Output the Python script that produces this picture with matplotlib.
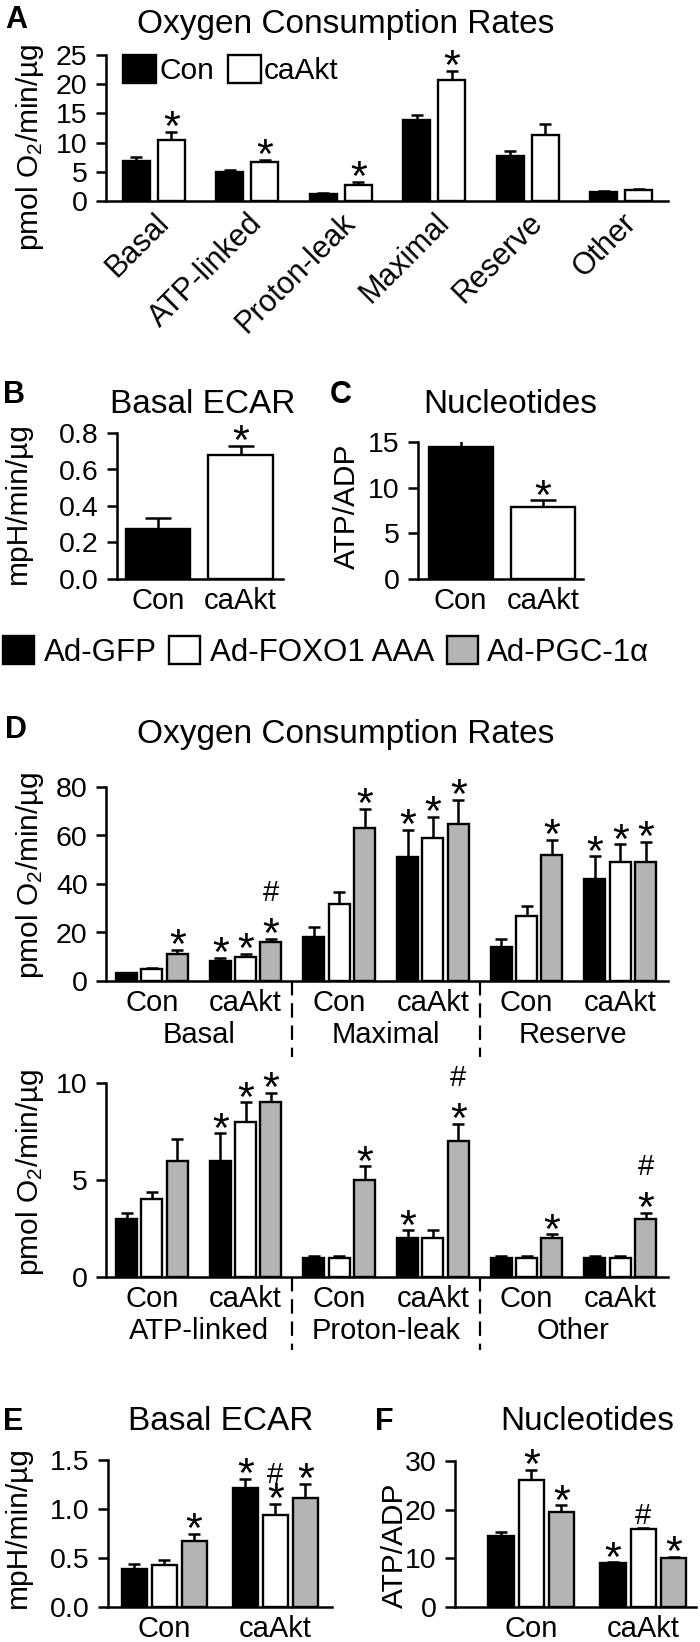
import matplotlib
matplotlib.use('Agg')
import matplotlib.pyplot as plt
import matplotlib.transforms as mtransforms
from matplotlib.patches import Patch
import numpy as np

plt.rcParams['font.family'] = ['Liberation Sans', 'DejaVu Sans']
plt.rcParams['mathtext.default'] = 'regular'

# ---------------- data ----------------
a_cats = ['Basal', 'ATP-linked', 'Proton-leak', 'Maximal', 'Reserve', 'Other']
a_con = [6.9, 5.0, 1.2, 13.9, 7.7, 1.5]
a_con_err = [0.6, 0.25, 0.2, 0.9, 0.8, 0.15]
a_ca = [10.4, 6.6, 2.8, 20.7, 11.3, 1.8]
a_ca_err = [1.4, 0.5, 0.5, 1.6, 1.8, 0.2]
a_ca_sig = ['*', '*', '*', '*', '', '']

bc_cats = ['Con', 'caAkt']
b_vals = [0.275, 0.68]
b_err = [0.058, 0.05]
b_sig = ['', '*']
c_vals = [14.4, 7.9]
c_err = [0.85, 0.7]
c_sig = ['', '*']

treat_labels = ['Ad-GFP', 'Ad-FOXO1 AAA', 'Ad-PGC-1α']
sub_labels = ['Con', 'caAkt', 'Con', 'caAkt', 'Con', 'caAkt']
d1_groups = ['Basal', 'Maximal', 'Reserve']
d1_gfp = [3.15, 8.1, 18.1, 51.1, 14.2, 42.2]
d1_gfp_err = [0.3, 1.5, 4.1, 11.1, 3.3, 9.2]
d1_foxo = [5.1, 10.1, 31.9, 58.9, 26.8, 49.0]
d1_foxo_err = [0.4, 1.0, 4.7, 8.8, 4.3, 7.4]
d1_pgc = [11.1, 16.0, 63.0, 64.9, 51.9, 49.0]
d1_pgc_err = [1.8, 1.4, 8.1, 9.9, 6.3, 8.5]
d1_gfp_sig = ['', '*', '', '*', '', '*']
d1_foxo_sig = ['', '*', '', '*', '', '*']
d1_pgc_sig = ['*', '#*', '*', '*', '*', '*']

d2_groups = ['ATP-linked', 'Proton-leak', 'Other']
d2_gfp = [3.0, 6.0, 1.0, 2.0, 1.0, 1.0]
d2_gfp_err = [0.3, 1.4, 0.06, 0.4, 0.06, 0.06]
d2_foxo = [4.0, 8.0, 1.0, 2.0, 1.0, 1.0]
d2_foxo_err = [0.4, 1.0, 0.06, 0.4, 0.06, 0.06]
d2_pgc = [6.0, 9.0, 5.0, 7.0, 2.0, 3.0]
d2_pgc_err = [1.1, 0.5, 0.7, 0.9, 0.2, 0.3]
d2_gfp_sig = ['', '*', '', '*', '', '']
d2_foxo_sig = ['', '*', '', '', '', '']
d2_pgc_sig = ['', '*', '*', '#*', '*', '#*']

ef_cats = ['Con', 'caAkt']
e_gfp = [0.39, 1.21]
e_gfp_err = [0.05, 0.1]
e_foxo = [0.43, 0.94]
e_foxo_err = [0.05, 0.11]
e_pgc = [0.67, 1.11]
e_pgc_err = [0.08, 0.15]
e_gfp_sig = ['', '*']
e_foxo_sig = ['', '#*']
e_pgc_sig = ['*', '*']

f_gfp = [14.5, 9.0]
f_gfp_err = [0.9, 0.15]
f_foxo = [26.0, 16.0]
f_foxo_err = [2.2, 0.3]
f_pgc = [19.6, 10.1]
f_pgc_err = [1.3, 0.15]
f_gfp_sig = ['', '*']
f_foxo_sig = ['*', '#']
f_pgc_sig = ['*', '*']

# ---------------- style ----------------
W, H = 700, 1642
BLACK, WHITE, GRAY = '#000000', '#ffffff', '#b4b4b4'
LW = 1.8
TICK_FS = 20.5
XT_FS = 21
TITLE_FS = 24
LAB_FS = 21.5
LET_FS = 22
STAR_FS = 31
HASH_FS = 21

fig = plt.figure(figsize=(W / 100, H / 100), dpi=100)


def add_ax(l, r, t, b):
    return fig.add_axes([l / W, 1 - b / H, (r - l) / W, (b - t) / H])


def ftext(x, y, s, **kw):
    fig.text(x / W, 1 - y / H, s, **kw)


def style(ax, ylim, yticks, ylabels):
    for s in ['top', 'right']:
        ax.spines[s].set_visible(False)
    for s in ['left', 'bottom']:
        ax.spines[s].set_linewidth(LW)
    ax.set_ylim(*ylim)
    ax.set_yticks(yticks)
    ax.set_yticklabels(ylabels, fontsize=TICK_FS)
    ax.tick_params(axis='y', length=7.2, width=LW, pad=6)
    ax.tick_params(axis='x', length=0, pad=6, labelsize=XT_FS)
    ax.patch.set_alpha(0)


def bars(ax, x, vals, errs, color, width, capsize):
    ax.bar(x, vals, width, color=color, edgecolor='black', linewidth=1.7, zorder=3)
    ax.errorbar(x, vals, yerr=[np.zeros(len(vals)), errs], fmt='none', ecolor='black',
                elinewidth=LW, capsize=capsize, capthick=LW, zorder=2)


def marks(ax, x, vals, errs, sigs, star_dy=-6, hash_dy=27, hash_alone=3):
    for xi, v, e, s in zip(x, vals, errs, sigs):
        top = v + e
        if '*' in s:
            ax.annotate('*', xy=(xi, top), xytext=(0, star_dy), textcoords='offset points',
                        ha='center', va='baseline', fontsize=STAR_FS, zorder=5)
        if '#' in s:
            dy = hash_dy if '*' in s else hash_alone
            ax.annotate('#', xy=(xi, top), xytext=(0, dy), textcoords='offset points',
                        ha='center', va='baseline', fontsize=HASH_FS, zorder=5)


# ---------------- Panel A ----------------
axA = add_ax(106, 668, 55, 201)
xa = np.arange(len(a_cats))
bars(axA, xa - 0.187, a_con, a_con_err, BLACK, 0.29, 4)
bars(axA, xa + 0.187, a_ca, a_ca_err, WHITE, 0.29, 4)
marks(axA, xa + 0.187, a_ca, a_ca_err, a_ca_sig)
axA.set_xlim(-0.51, 5.5)
style(axA, (0, 25), [0, 5, 10, 15, 20, 25], ['0', '5', '10', '15', '20', '25'])
axA.set_xticks(xa)
axA.set_xticklabels(a_cats, rotation=45, ha='right', va='top', rotation_mode='anchor', fontsize=22)
axA.tick_params(axis='x', pad=5)
legA = axA.legend(handles=[Patch(facecolor=BLACK, edgecolor='black', linewidth=1.7),
                           Patch(facecolor=WHITE, edgecolor='black', linewidth=1.7)],
                  labels=['Con', 'caAkt'], ncol=2, frameon=False, fontsize=21.5,
                  handlelength=1.1, handleheight=1.05, handletextpad=0.12, columnspacing=0.45,
                  borderpad=0, borderaxespad=0, loc='center left',
                  bbox_to_anchor=(123 / W, 1 - 70 / H), bbox_transform=fig.transFigure)
ftext(5, 28, 'A', fontsize=LET_FS, fontweight='bold', va='baseline')
ftext(137, 33, 'Oxygen Consumption Rates', fontsize=TITLE_FS, ha='left', va='baseline')
ftext(30, 147, 'pmol O$_2$/min/µg', fontsize=LAB_FS, rotation=90, ha='center', va='center')

# ---------------- Panel B ----------------
axB = add_ax(117, 283, 433, 579)
xb = np.arange(len(bc_cats))
bars(axB, xb, b_vals, b_err, [BLACK, WHITE], 0.78, 9.5)
marks(axB, xb, b_vals, b_err, b_sig)
axB.set_xlim(-0.497, 1.515)
style(axB, (0, 0.8), [0, 0.2, 0.4, 0.6, 0.8], ['0.0', '0.2', '0.4', '0.6', '0.8'])
axB.set_xticks(xb)
axB.set_xticklabels(bc_cats)
ftext(3, 403, 'B', fontsize=LET_FS, fontweight='bold', va='baseline')
ftext(110, 413, 'Basal ECAR', fontsize=TITLE_FS, ha='left', va='baseline')
ftext(18, 503, 'mpH/min/µg', fontsize=LAB_FS, rotation=90, ha='center', va='center')

# ---------------- Panel C ----------------
axC = add_ax(418, 583, 442, 579)
bars(axC, xb, c_vals, c_err, [BLACK, WHITE], 0.78, 9.5)
marks(axC, xb, c_vals, c_err, c_sig)
axC.set_xlim(-0.52, 1.49)
style(axC, (0, 15), [0, 5, 10, 15], ['0', '5', '10', '15'])
axC.set_xticks(xb)
axC.set_xticklabels(bc_cats)
ftext(330, 403, 'C', fontsize=LET_FS, fontweight='bold', va='baseline')
ftext(423, 413, 'Nucleotides', fontsize=TITLE_FS, ha='left', va='baseline')
ftext(347, 506, 'ATP/ADP', fontsize=LAB_FS, rotation=90, ha='center', va='center')

# ---------------- shared legend ----------------
fig.legend(handles=[Patch(facecolor=c, edgecolor='black', linewidth=1.7) for c in (BLACK, WHITE, GRAY)],
           labels=treat_labels, ncol=3, frameon=False, fontsize=22.5,
           handlelength=1.0, handleheight=1.0, handletextpad=0.3, columnspacing=0.4,
           borderpad=0, borderaxespad=0, loc='center left',
           bbox_to_anchor=(3 / W, 1 - 652 / H), bbox_transform=fig.transFigure)


# ---------------- Panel D ----------------
def panel_d(ax, gfp, gfp_e, foxo, foxo_e, pgc, pgc_e, sigs, groups, ylim, yt, sep_len):
    x = np.arange(6)
    bars(ax, x - 0.27, gfp, gfp_e, BLACK, 0.225, 4.5)
    bars(ax, x, foxo, foxo_e, WHITE, 0.225, 4.5)
    bars(ax, x + 0.27, pgc, pgc_e, GRAY, 0.225, 4.5)
    marks(ax, x - 0.27, gfp, gfp_e, sigs[0], hash_dy=27)
    marks(ax, x, foxo, foxo_e, sigs[1], hash_dy=27)
    marks(ax, x + 0.27, pgc, pgc_e, sigs[2], hash_dy=27)
    ax.set_xlim(-0.49, 5.51)
    style(ax, ylim, yt, [str(v) for v in yt])
    ax.set_xticks(x)
    ax.set_xticklabels(sub_labels)
    trans = mtransforms.blended_transform_factory(ax.transData, ax.transAxes)
    for gi, g in enumerate(groups):
        ax.annotate(g, xy=(2 * gi + 0.5, 0), xycoords=trans, xytext=(0, -29),
                    textcoords='offset points', ha='center', va='top', fontsize=XT_FS)
    for sx in (1.5, 3.5):
        ax.plot([sx, sx], [0, -sep_len], transform=trans, clip_on=False, color='black',
                lw=1.6, linestyle=(0, (6.5, 3.5)))


axD1 = add_ax(106, 668, 787, 981)
panel_d(axD1, d1_gfp, d1_gfp_err, d1_foxo, d1_foxo_err, d1_pgc, d1_pgc_err,
        (d1_gfp_sig, d1_foxo_sig, d1_pgc_sig), d1_groups, (0, 80), [0, 20, 40, 60, 80], 0.39)
ftext(5, 738, 'D', fontsize=LET_FS, fontweight='bold', va='baseline')
ftext(137, 743, 'Oxygen Consumption Rates', fontsize=TITLE_FS, ha='left', va='baseline')
ftext(30, 875, 'pmol O$_2$/min/µg', fontsize=LAB_FS, rotation=90, ha='center', va='center')

axD2 = add_ax(106, 668, 1083, 1277)
panel_d(axD2, d2_gfp, d2_gfp_err, d2_foxo, d2_foxo_err, d2_pgc, d2_pgc_err,
        (d2_gfp_sig, d2_foxo_sig, d2_pgc_sig), d2_groups, (0, 10), [0, 5, 10], 0.376)
ftext(30, 1172, 'pmol O$_2$/min/µg', fontsize=LAB_FS, rotation=90, ha='center', va='center')


# ---------------- Panels E, F ----------------
def panel_ef(ax, gfp, gfp_e, foxo, foxo_e, pgc, pgc_e, sigs, xlim, ylim, yt, ytl):
    x = np.arange(2)
    bars(ax, x - 0.27, gfp, gfp_e, BLACK, 0.225, 4.5)
    bars(ax, x, foxo, foxo_e, WHITE, 0.225, 4.5)
    bars(ax, x + 0.27, pgc, pgc_e, GRAY, 0.225, 4.5)
    marks(ax, x - 0.27, gfp, gfp_e, sigs[0], hash_dy=15)
    marks(ax, x, foxo, foxo_e, sigs[1], hash_dy=15)
    marks(ax, x + 0.27, pgc, pgc_e, sigs[2], hash_dy=15)
    ax.set_xlim(*xlim)
    style(ax, ylim, yt, ytl)
    ax.set_xticks(x)
    ax.set_xticklabels(ef_cats)


axE = add_ax(108, 332, 1460, 1607)
panel_ef(axE, e_gfp, e_gfp_err, e_foxo, e_foxo_err, e_pgc, e_pgc_err,
         (e_gfp_sig, e_foxo_sig, e_pgc_sig), (-0.505, 1.51), (0, 1.5), [0, 0.5, 1.0, 1.5],
         ['0.0', '0.5', '1.0', '1.5'])
ftext(3, 1430, 'E', fontsize=LET_FS, fontweight='bold', va='baseline')
ftext(128, 1430, 'Basal ECAR', fontsize=TITLE_FS, ha='left', va='baseline')
ftext(18, 1527, 'mpH/min/µg', fontsize=LAB_FS, rotation=90, ha='center', va='center')

axF = add_ax(455, 696, 1461, 1607)
panel_ef(axF, f_gfp, f_gfp_err, f_foxo, f_foxo_err, f_pgc, f_pgc_err,
         (f_gfp_sig, f_foxo_sig, f_pgc_sig), (-0.68, 1.47), (0, 30), [0, 10, 20, 30],
         ['0', '10', '20', '30'])
ftext(375, 1430, 'F', fontsize=LET_FS, fontweight='bold', va='baseline')
ftext(500, 1430, 'Nucleotides', fontsize=TITLE_FS, ha='left', va='baseline')
ftext(395, 1545, 'ATP/ADP', fontsize=LAB_FS, rotation=90, ha='center', va='center')

fig.savefig('out.png', dpi=100)
